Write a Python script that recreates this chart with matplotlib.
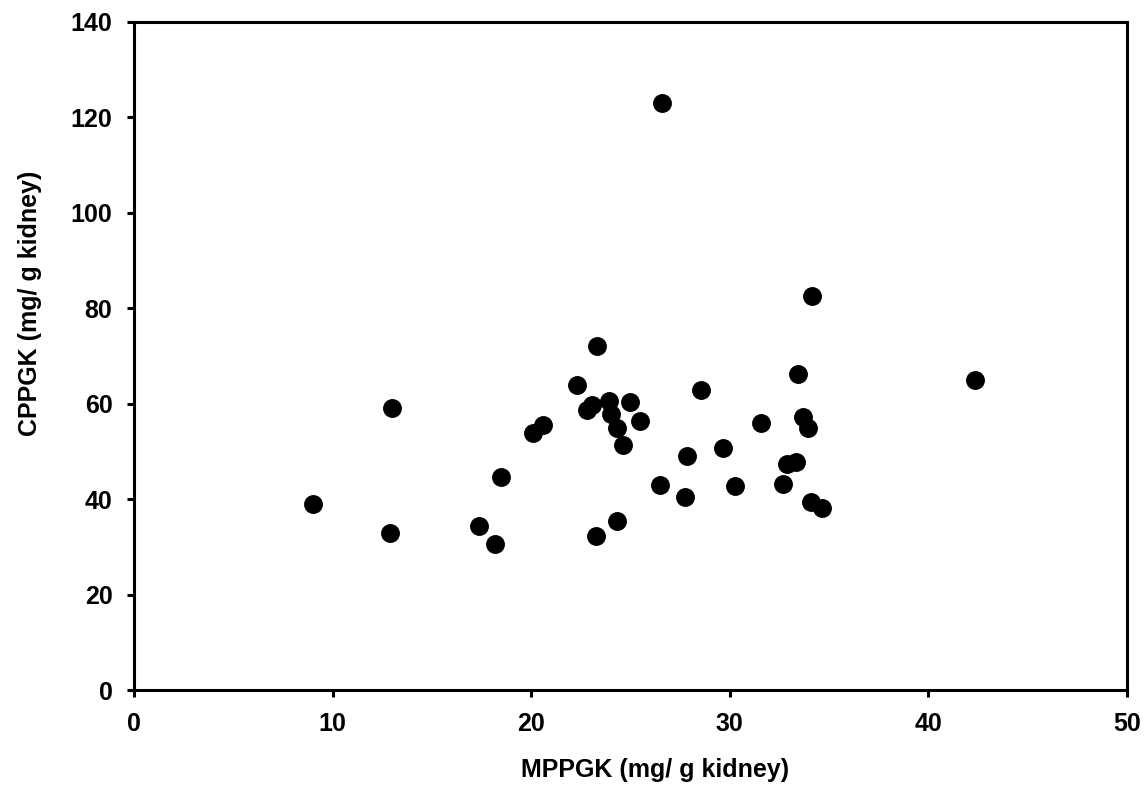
import matplotlib
matplotlib.use("Agg")
import matplotlib.pyplot as plt

# MPPGK vs CPPGK values
mppgk = [9.0, 12.9, 13.0, 17.35, 18.16, 18.5, 20.07, 20.57, 22.3, 23.3,
         22.8, 23.05, 23.9, 24.04, 24.34, 24.6, 24.97, 25.48, 23.28, 24.3,
         26.47, 26.58, 27.72, 27.84, 28.56, 29.68, 30.25, 31.56, 32.68, 32.9,
         33.32, 33.43, 33.67, 33.92, 34.1, 34.15, 34.66, 42.36]
cppgk = [39.0, 33.0, 59.2, 34.4, 30.6, 44.7, 53.9, 55.6, 64.0, 72.1,
         58.8, 59.7, 60.6, 58.0, 54.9, 51.5, 60.4, 56.4, 32.4, 35.4,
         43.0, 123.0, 40.5, 49.2, 62.9, 50.7, 42.8, 56.1, 43.2, 47.4,
         47.9, 66.3, 57.3, 54.9, 39.5, 82.6, 38.3, 65.0]

plt.rcParams["font.family"] = ["Liberation Sans", "DejaVu Sans"]
plt.rcParams["font.weight"] = "bold"

fig = plt.figure(figsize=(11.47, 7.94), dpi=100)
ax = fig.add_axes([0.1168, 0.1304, 0.8658, 0.8419])

ax.scatter(mppgk, cppgk, s=185, color="black", zorder=3, linewidths=0)

ax.set_xlim(0, 50)
ax.set_ylim(0, 140)
ax.set_xticks(range(0, 51, 10))
ax.set_yticks(range(0, 141, 20))
for sp in ax.spines.values():
    sp.set_linewidth(2.2)
ax.tick_params(direction="out", length=5, width=2.2, labelsize=18, pad=10.5)
for lbl in ax.get_xticklabels() + ax.get_yticklabels():
    lbl.set_fontweight("bold")

ax.set_xlabel("MPPGK (mg/ g kidney)", fontsize=18, fontweight="bold",
              ha="center", va="center")
ax.set_ylabel("CPPGK (mg/ g kidney)", fontsize=18, fontweight="bold",
              ha="center", va="center")
ax.xaxis.set_label_coords(0.525, -0.119)
ax.yaxis.set_label_coords(-0.105, 0.579)

fig.savefig("out.png", dpi=100)
